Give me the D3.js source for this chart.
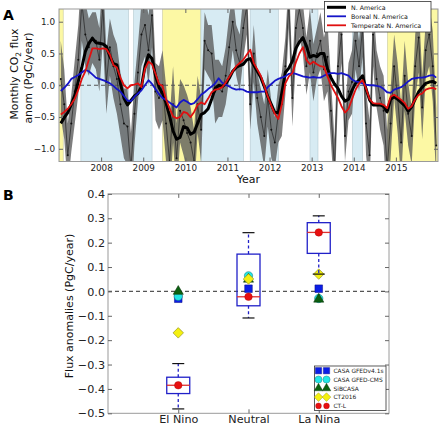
<!DOCTYPE html>
<html><head><meta charset="utf-8">
<script src="https://cdn.jsdelivr.net/npm/d3@7"></script>
<style>body{margin:0;background:#fff}svg{display:block;font-family:"DejaVu Sans",sans-serif}</style>
</head><body><svg id="c" width="440" height="426"></svg>
<script>
// ---------------- DATA ----------------
const startYear = 2007;
// Panel A: monthly anomalies (PgC/year), Jan 2007 .. Dec 2015
const naSmooth = [
 -0.60,-0.51,-0.43,-0.30,-0.16,0.06,0.28,0.53,0.66,0.74,0.67,0.66,
 0.65,0.61,0.45,0.34,0.32,0.03,-0.20,-0.31,-0.24,-0.17,-0.13,-0.02,
 0.30,0.48,0.42,0.15,-0.03,-0.13,-0.28,-0.48,-0.72,-0.85,-0.82,-0.65,
 -0.67,-0.77,-0.74,-0.60,-0.46,-0.43,-0.37,-0.22,-0.05,0.00,-0.02,0.02,
 0.11,0.22,0.28,0.31,0.33,0.40,0.42,0.32,0.22,0.12,-0.02,-0.18,
 -0.30,-0.43,-0.43,-0.12,0.20,0.27,0.38,0.58,0.68,0.75,0.62,0.44,
 0.47,0.45,0.50,0.50,0.26,0.12,0.02,-0.05,-0.17,-0.25,-0.22,-0.08,
 0.03,0.08,0.15,-0.06,-0.23,-0.31,-0.31,-0.31,-0.33,-0.42,-0.22,-0.18,
 -0.22,-0.27,-0.32,-0.41,-0.34,-0.22,-0.10,-0.03,0.03,0.05,0.06,0.03];
const borealSmooth = [
 -0.09,-0.04,0.02,0.10,0.13,0.16,0.20,0.24,0.22,0.17,0.12,0.10,
 0.08,0.06,0.03,-0.01,-0.06,-0.10,-0.17,-0.24,-0.25,-0.18,-0.13,-0.08,
 0.00,0.08,0.02,-0.06,-0.14,-0.20,-0.23,-0.27,-0.31,-0.35,-0.27,-0.23,
 -0.26,-0.30,-0.28,-0.22,-0.15,-0.11,-0.06,-0.02,0.03,0.11,0.04,0.01,
 -0.02,-0.05,-0.07,-0.06,-0.07,-0.10,-0.11,-0.11,-0.11,-0.10,-0.10,-0.03,
 0.02,0.07,0.10,0.12,0.14,0.18,0.19,0.18,0.16,0.14,0.13,0.12,
 0.13,0.12,0.12,0.15,0.18,0.19,0.19,0.18,0.19,0.17,0.15,0.09,
 0.06,0.05,0.03,0.01,0.00,0.00,-0.01,-0.02,-0.06,-0.11,-0.12,-0.07,
 -0.05,-0.03,0.01,0.06,0.10,0.11,0.12,0.12,0.13,0.15,0.16,0.12];
const temperateSmooth = [
 -0.46,-0.42,-0.37,-0.30,-0.21,-0.07,0.10,0.22,0.40,0.58,0.58,0.57,
 0.58,0.57,0.48,0.32,0.28,0.12,0.00,-0.05,0.00,0.01,0.03,-0.03,
 0.26,0.37,0.33,0.18,0.02,-0.01,-0.22,-0.36,-0.49,-0.52,-0.50,-0.42,
 -0.44,-0.50,-0.42,-0.31,-0.27,-0.30,-0.21,-0.11,-0.07,-0.06,-0.03,0.04,
 0.13,0.22,0.30,0.35,0.40,0.48,0.56,0.35,0.25,0.15,-0.01,-0.18,
 -0.32,-0.45,-0.53,-0.30,0.03,0.14,0.19,0.36,0.50,0.60,0.40,0.33,
 0.37,0.33,0.30,0.29,0.14,0.00,-0.10,-0.20,-0.33,-0.43,-0.37,-0.22,
 -0.07,0.03,0.08,-0.05,-0.22,-0.28,-0.29,-0.29,-0.31,-0.36,-0.18,-0.15,
 -0.19,-0.23,-0.28,-0.37,-0.33,-0.22,-0.15,-0.13,-0.07,-0.05,-0.04,-0.06];
const naMonthly = [
 0.10,-0.30,-1.10,-0.60,-0.10,0.40,1.30,0.80,0.60,0.75,0.70,0.40,
 1.25,0.05,0.60,0.30,0.10,-0.30,-0.60,-0.65,-1.30,-0.45,0.20,0.80,
 0.95,0.55,1.10,-0.10,-0.20,0.00,-0.60,-1.20,-0.30,-1.15,-0.40,-0.55,
 -0.75,-0.90,-1.20,-0.30,-0.70,0.70,0.55,0.50,-0.10,-0.05,-0.10,0.15,
 0.60,1.00,0.55,0.35,0.90,1.25,-0.30,0.50,-0.20,-0.50,-0.80,-0.20,
 -0.70,-0.90,-0.45,-0.30,0.30,1.30,-0.20,0.90,1.20,0.90,0.30,0.70,
 0.20,0.50,0.70,0.25,0.45,-0.40,-1.30,0.30,0.80,-0.80,-0.10,0.05,
 0.70,0.30,0.90,-0.60,-1.10,0.80,0.10,-0.20,-0.40,-1.30,-0.60,0.30,
 -0.20,-0.90,0.15,-0.45,-0.80,0.30,0.75,-0.35,0.55,0.80,0.30,-0.95];
const naSpread = [
 0.60,0.55,0.50,0.45,0.50,0.55,0.60,0.50,0.45,0.40,0.45,0.50,
 0.55,0.50,0.45,0.50,0.55,0.50,0.55,0.60,0.55,0.50,0.45,0.50,
 0.50,0.55,0.50,0.45,0.50,0.55,0.60,0.65,0.60,0.55,0.50,0.55,
 0.60,0.55,0.50,0.45,0.50,0.45,0.40,0.45,0.50,0.45,0.40,0.45,
 0.50,0.45,0.40,0.45,0.50,0.45,0.40,0.45,0.40,0.45,0.50,0.45,
 0.45,0.40,0.45,0.50,0.45,0.40,0.45,0.50,0.45,0.40,0.45,0.50,
 0.45,0.40,0.45,0.50,0.55,0.50,0.45,0.50,0.45,0.40,0.45,0.50,
 0.45,0.40,0.45,0.50,0.55,0.50,0.45,0.50,0.55,0.60,0.55,0.50,
 0.55,0.60,0.55,0.50,0.45,0.50,0.55,0.50,0.45,0.50,0.55,0.60];
const elNinoStart = [2007.0, 2009.46, 2014.80];
const elNinoEnd   = [2007.10, 2010.37, 2016.0];
const laNinaStart = [2007.52, 2008.77, 2010.37, 2011.54, 2012.96, 2013.97];
const laNinaEnd   = [2008.65, 2009.21, 2011.38, 2012.21, 2013.15, 2014.21];
const yearTicks = [2008,2009,2010,2011,2012,2013,2014,2015];
const fluxTicksA = [-1.0,-0.5,0.0,0.5,1.0];
const seriesNamesA = ["N. America","Boreal N. America","Temperate N. America"];

// Panel B
const phases = ["El Nino","Neutral","La Nina"];
const whiskerLow  = [-0.482,-0.109, 0.071];
const q1          = [-0.419,-0.059, 0.156];
const medianVal   = [-0.385,-0.022, 0.242];
const q3          = [-0.352, 0.153, 0.282];
const whiskerHigh = [-0.296, 0.241, 0.310];
const casaGfed41s = [-0.030, 0.011, 0.011];
const casaGfedCms = [-0.020, 0.064,-0.029];
const sibcasa     = [ 0.000, 0.050,-0.032];
const ct2016      = [-0.170, 0.051, 0.071];
const ctL         = [-0.385,-0.022, 0.242];
const fluxTicksB = [-0.5,-0.4,-0.3,-0.2,-0.1,0.0,0.1,0.2,0.3,0.4];
const modelNames = ["CASA GFEDv4.1s","CASA GFED-CMS","SiBCASA","CT2016","CT-L"];

// ---------------- DRAW ----------------
const svg = d3.select("#c");
const fmt = d3.format(".1f");
const frameCol = "#9a9a9a";

// ===== Panel A =====
const xA = d3.scaleLinear().domain([2007, 2016]).range([59, 438]);
const yA = d3.scaleLinear().domain([-1.2, 1.2]).range([161.5, 9]);
const tOf = i => startYear + (i + 0.5) / 12;

svg.append("clipPath").attr("id","clipA").append("rect")
  .attr("x",59).attr("y",9).attr("width",379).attr("height",152.5);
const gA = svg.append("g").attr("clip-path","url(#clipA)");

gA.selectAll("rect.nino").data(d3.range(elNinoStart.length)).join("rect")
  .attr("x", i => xA(elNinoStart[i])).attr("width", i => xA(elNinoEnd[i]) - xA(elNinoStart[i]))
  .attr("y", 9).attr("height", 152.5).attr("fill", "#fcf8a4")
  .attr("stroke","#c8c8a0").attr("stroke-width",0.6);
gA.selectAll("rect.nina").data(d3.range(laNinaStart.length)).join("rect")
  .attr("x", i => xA(laNinaStart[i])).attr("width", i => xA(laNinaEnd[i]) - xA(laNinaStart[i]))
  .attr("y", 9).attr("height", 152.5).attr("fill", "#d7ebf3")
  .attr("stroke","#b4c8d0").attr("stroke-width",0.6);

const idx = d3.range(naSmooth.length);
gA.append("path").datum(idx)
  .attr("d", d3.area().x(i => xA(tOf(i)))
    .y0(i => yA(naMonthly[i] - naSpread[i])).y1(i => yA(naMonthly[i] + naSpread[i])))
  .attr("fill", "#5a5a5a").attr("fill-opacity", 0.78);

gA.append("line").attr("x1",59).attr("x2",438).attr("y1",yA(0)).attr("y2",yA(0))
  .attr("stroke","#555").attr("stroke-width",1.2).attr("stroke-dasharray","4,3");

gA.append("path").datum(idx)
  .attr("d", d3.line().x(i => xA(tOf(i))).y(i => yA(naMonthly[i])))
  .attr("fill","none").attr("stroke","#222").attr("stroke-width",0.7);
gA.selectAll("circle.raw").data(idx).join("circle")
  .attr("cx", i => xA(tOf(i))).attr("cy", i => yA(naMonthly[i])).attr("r", 1)
  .attr("fill","#111");

const lineA = arr => d3.line().x(i => xA(tOf(i))).y(i => yA(arr[i]));
gA.append("path").datum(idx).attr("d", lineA(naSmooth))
  .attr("fill","none").attr("stroke","#000").attr("stroke-width",3).attr("stroke-linejoin","round");
gA.append("path").datum(idx).attr("d", lineA(borealSmooth))
  .attr("fill","none").attr("stroke","#1515c8").attr("stroke-width",1.8).attr("stroke-linejoin","round");
gA.append("path").datum(idx).attr("d", lineA(temperateSmooth))
  .attr("fill","none").attr("stroke","#e01010").attr("stroke-width",1.8).attr("stroke-linejoin","round");

// frame & axes A
svg.append("rect").attr("x",59).attr("y",9).attr("width",379).attr("height",152.5)
  .attr("fill","none").attr("stroke",frameCol).attr("stroke-width",1);
const axAy = svg.append("g").attr("transform","translate(59,0)")
  .call(d3.axisLeft(yA).tickValues(fluxTicksA).tickFormat(fmt).tickSize(-4).tickPadding(4));
const axAyR = svg.append("g").attr("transform","translate(438,0)")
  .call(d3.axisRight(yA).tickValues(fluxTicksA).tickFormat("").tickSize(-4));
const axAx = svg.append("g").attr("transform","translate(0,161.5)")
  .call(d3.axisBottom(xA).tickValues(yearTicks).tickFormat(d3.format("d")).tickSize(-4).tickPadding(3.5));
const axAxT = svg.append("g").attr("transform","translate(0,9)")
  .call(d3.axisTop(xA).tickValues(yearTicks).tickFormat("").tickSize(-4));
[axAy, axAyR, axAx, axAxT].forEach(g => {
  g.select(".domain").remove();
  g.selectAll(".tick line").attr("stroke","#666");
  g.selectAll("text").attr("font-size",8.8).attr("fill","#222").attr("font-family","DejaVu Sans, sans-serif");
});

svg.append("text").attr("x",248.5).attr("y",183).attr("text-anchor","middle")
  .attr("font-size",11).attr("fill","#111").text("Year");
const yl = svg.append("text").attr("transform","translate(18,74) rotate(-90)")
  .attr("text-anchor","middle").attr("font-size",10.8).attr("fill","#111");
yl.append("tspan").text("Monthly CO");
yl.append("tspan").attr("font-size",7.5).attr("dy",3).text("2");
yl.append("tspan").attr("dy",-3).text(" flux");
svg.append("text").attr("transform","translate(32,78) rotate(-90)")
  .attr("text-anchor","middle").attr("font-size",10.8).attr("fill","#111").text("anom (PgC/year)");
svg.append("text").attr("x",3).attr("y",20).attr("font-size",14).attr("font-weight","bold").text("A");

// legend A
const legA = svg.append("g");
legA.append("rect").attr("x",324.5).attr("y",1.5).attr("width",106.5).attr("height",30.5)
  .attr("fill","#fff").attr("stroke","#333").attr("stroke-width",0.8);
const legColA = ["#000","#1515c8","#e01010"], legWA = [3,1.8,1.8];
seriesNamesA.forEach((n,i) => {
  const yy = 7.3 + i*9;
  legA.append("line").attr("x1",327).attr("x2",346).attr("y1",yy).attr("y2",yy)
    .attr("stroke",legColA[i]).attr("stroke-width",legWA[i]);
  legA.append("text").attr("x",351).attr("y",yy+2.5).attr("font-size",6.3).attr("fill","#111").text(n);
});

// ===== Panel B =====
const xB = d3.scaleLinear().domain([0, 4]).range([108, 389]);
const yB = d3.scaleLinear().domain([-0.5, 0.4]).range([413.3, 193.9]);
const pos = i => xB(i + 1);

svg.append("line").attr("x1",108).attr("x2",389).attr("y1",yB(0)).attr("y2",yB(0))
  .attr("stroke","#555").attr("stroke-width",1.2).attr("stroke-dasharray","4,3");

const gB = svg.append("g");
const pIdx = d3.range(phases.length);
// markers
gB.selectAll("path.sq").data(pIdx).join("path")
  .attr("transform", i => `translate(${pos(i)},${yB(casaGfed41s[i])})`)
  .attr("d", d3.symbol(d3.symbolSquare, 58)).attr("fill","#0a1ee6").attr("stroke","#0a0a80").attr("stroke-width",0.5);
gB.selectAll("path.ci").data(pIdx).join("path")
  .attr("transform", i => `translate(${pos(i)},${yB(casaGfedCms[i])})`)
  .attr("d", d3.symbol(d3.symbolCircle, 55)).attr("fill","#22e6e6").attr("stroke","#107070").attr("stroke-width",0.5);
gB.selectAll("path.tr").data(pIdx).join("path")
  .attr("transform", i => `translate(${pos(i)},${yB(sibcasa[i])})`)
  .attr("d", d3.symbol(d3.symbolTriangle, 45)).attr("fill","#0c6010").attr("stroke","#063008").attr("stroke-width",0.5);
gB.selectAll("path.di").data(pIdx).join("path")
  .attr("transform", i => `translate(${pos(i)},${yB(ct2016[i])}) rotate(45)`)
  .attr("d", d3.symbol(d3.symbolSquare, 55)).attr("fill","#f4f010").attr("stroke","#8a8a20").attr("stroke-width",0.6);

// boxplot
const bw = 23, cw = 12;
pIdx.forEach(i => {
  const cx = pos(i);
  gB.append("line").attr("x1",cx).attr("x2",cx).attr("y1",yB(q3[i])).attr("y2",yB(whiskerHigh[i]))
    .attr("stroke","#2020c8").attr("stroke-width",1.3).attr("stroke-dasharray","3,2.5");
  gB.append("line").attr("x1",cx).attr("x2",cx).attr("y1",yB(q1[i])).attr("y2",yB(whiskerLow[i]))
    .attr("stroke","#2020c8").attr("stroke-width",1.3).attr("stroke-dasharray","3,2.5");
  gB.append("line").attr("x1",cx-cw/2).attr("x2",cx+cw/2).attr("y1",yB(whiskerHigh[i])).attr("y2",yB(whiskerHigh[i]))
    .attr("stroke","#111").attr("stroke-width",1.2);
  gB.append("line").attr("x1",cx-cw/2).attr("x2",cx+cw/2).attr("y1",yB(whiskerLow[i])).attr("y2",yB(whiskerLow[i]))
    .attr("stroke","#111").attr("stroke-width",1.2);
  gB.append("rect").attr("x",cx-bw/2).attr("width",bw).attr("y",yB(q3[i])).attr("height",yB(q1[i])-yB(q3[i]))
    .attr("fill","none").attr("stroke","#2020c8").attr("stroke-width",1.3);
  gB.append("line").attr("x1",cx-bw/2).attr("x2",cx+bw/2).attr("y1",yB(medianVal[i])).attr("y2",yB(medianVal[i]))
    .attr("stroke","#e03030").attr("stroke-width",1.3);
});
gB.selectAll("path.rd").data(pIdx).join("path")
  .attr("transform", i => `translate(${pos(i)},${yB(ctL[i])})`)
  .attr("d", d3.symbol(d3.symbolCircle, 45)).attr("fill","#e81010").attr("stroke","#a00").attr("stroke-width",0.4);

// frame & axes B
svg.append("rect").attr("x",108).attr("y",193.9).attr("width",281).attr("height",219.4)
  .attr("fill","none").attr("stroke",frameCol).attr("stroke-width",1);
const axBy = svg.append("g").attr("transform","translate(108,0)")
  .call(d3.axisLeft(yB).tickValues(fluxTicksB).tickFormat(fmt).tickSize(-4).tickPadding(3));
const axByR = svg.append("g").attr("transform","translate(389,0)")
  .call(d3.axisRight(yB).tickValues(fluxTicksB).tickFormat("").tickSize(-4));
const axBx = svg.append("g").attr("transform","translate(0,413.3)")
  .call(d3.axisBottom(xB).tickValues([1,2,3]).tickFormat(d => phases[d-1]).tickSize(-4).tickPadding(1.5));
const axBxT = svg.append("g").attr("transform","translate(0,193.9)")
  .call(d3.axisTop(xB).tickValues([1,2,3]).tickFormat("").tickSize(-4));
[axBy, axByR, axBx, axBxT].forEach(g => {
  g.select(".domain").remove();
  g.selectAll(".tick line").attr("stroke","#666");
  g.selectAll("text").attr("font-size",11.2).attr("fill","#222").attr("font-family","DejaVu Sans, sans-serif");
});

svg.append("text").attr("transform","translate(73,306) rotate(-90)")
  .attr("text-anchor","middle").attr("font-size",11).attr("fill","#111").text("Flux anomalies (PgC/year)");
svg.append("text").attr("x",3).attr("y",200).attr("font-size",14).attr("font-weight","bold").text("B");

// legend B
const legB = svg.append("g");
legB.append("rect").attr("x",314.5).attr("y",366).attr("width",71.5).attr("height",44.5)
  .attr("fill","#fff").attr("stroke","#333").attr("stroke-width",0.8);
const legSym = [
  {t:d3.symbolSquare, s:40, f:"#0a1ee6", st:"#0a0a80", r:0},
  {t:d3.symbolCircle, s:40, f:"#22e6e6", st:"#107070", r:0},
  {t:d3.symbolTriangle, s:32, f:"#0c6010", st:"#063008", r:0},
  {t:d3.symbolSquare, s:38, f:"#f4f010", st:"#8a8a20", r:45},
  {t:d3.symbolCircle, s:26, f:"#e81010", st:"#a00", r:0}];
modelNames.forEach((n,i) => {
  const yy = 370.7 + i*8.8;
  [318.5, 326.5].forEach(xx => {
    legB.append("path").attr("transform",`translate(${xx},${yy}) rotate(${legSym[i].r})`)
      .attr("d", d3.symbol(legSym[i].t, legSym[i].s)).attr("fill",legSym[i].f)
      .attr("stroke",legSym[i].st).attr("stroke-width",0.4);
  });
  legB.append("text").attr("x",333.5).attr("y",yy+2.2).attr("font-size",5.9).attr("fill","#222").text(n);
});
</script></body></html>
